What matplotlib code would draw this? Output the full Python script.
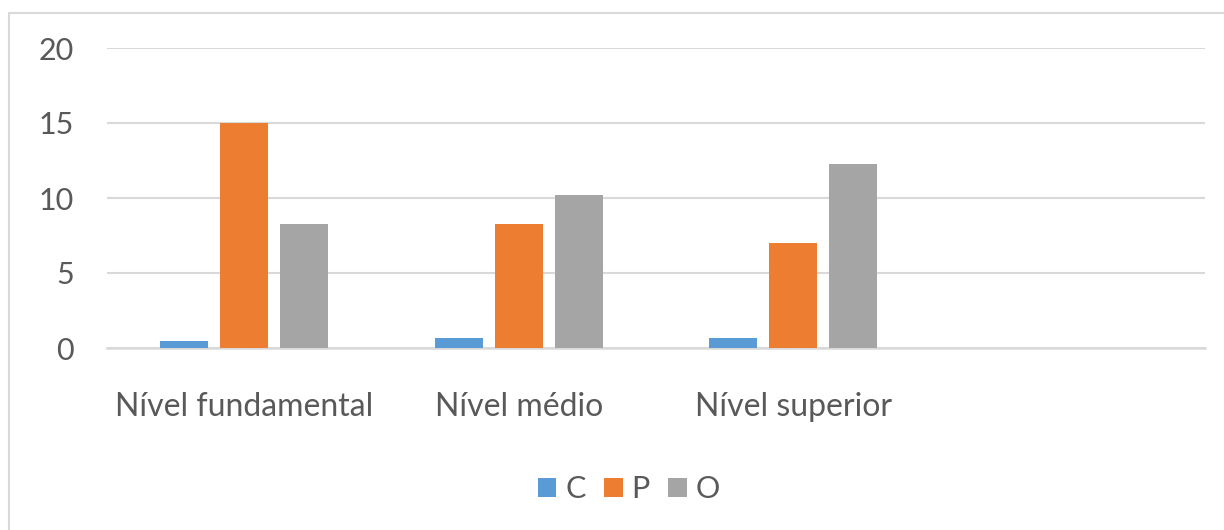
import matplotlib
matplotlib.use("Agg")
import matplotlib.pyplot as plt
from matplotlib.patches import Rectangle, Patch
import numpy as np

categories = ["Nível fundamental", "Nível médio", "Nível superior", ""]
series_names = ["C", "P", "O"]
C_vals = [0.5, 0.7, 0.7]
P_vals = [15, 8.3, 7]
O_vals = [8.3, 10.2, 12.3]
yticks = [0, 5, 10, 15, 20]

colors = ["#5B9BD5", "#ED7D31", "#A5A5A5"]
text_color = "#595959"
grid_color = "#D9D9D9"

plt.rcParams['font.family'] = ['Lato', 'DejaVu Sans']

W, H = 1224, 530
fig = plt.figure(figsize=(W / 100, H / 100), dpi=100)
fig.patch.set_facecolor("white")

# chart border (cropped at right and bottom)
fig.patches.append(Rectangle((9 / W, -0.1), 1.2, 1 - 13 / H + 0.1, transform=fig.transFigure,
                             fill=False, edgecolor="#D9D9D9", linewidth=1.5, zorder=0))

ax = fig.add_axes([107 / W, 1 - 348 / H, (1205 - 107) / W, (348 - 48) / H])
ax.set_facecolor("none")

n_cat = len(categories)
x = np.arange(n_cat)
bw = 48 / 274.5
step = 60 / 274.5
all_vals = [C_vals, P_vals, O_vals]
for i, (vals, col, name) in enumerate(zip(all_vals, colors, series_names)):
    ax.bar(x[:len(vals)] + (i - 1) * step, vals, width=bw, color=col, label=name, zorder=3)

ax.set_xlim(-0.5, n_cat - 0.5)
ax.set_ylim(0, 20)
ax.set_yticks(yticks)
ax.set_yticklabels([str(t) for t in yticks])
ax.set_xticks(x)
ax.set_xticklabels(categories)
ax.yaxis.grid(True, color=grid_color, linewidth=1.5, zorder=0)
ax.set_axisbelow(True)
for s in ["top", "right", "left"]:
    ax.spines[s].set_visible(False)
ax.spines["bottom"].set_color(grid_color)
ax.spines["bottom"].set_linewidth(1.8)
ax.spines["bottom"].set_zorder(2)
ax.tick_params(axis="both", length=0, colors=text_color)
ax.tick_params(axis="y", pad=24, labelsize=22)
ax.tick_params(axis="x", pad=32, labelsize=23)

handles = [Patch(facecolor=c, edgecolor="none", label=n) for c, n in zip(colors, series_names)]
leg = fig.legend(handles=handles, loc="center", bbox_to_anchor=(629 / W, 1 - 489 / H), ncol=3,
                 frameon=False, fontsize=22, handlelength=0.6, handleheight=0.6,
                 handletextpad=0.3, columnspacing=0.6, labelcolor=text_color)

fig.savefig("out.png", dpi=100, facecolor="white")
